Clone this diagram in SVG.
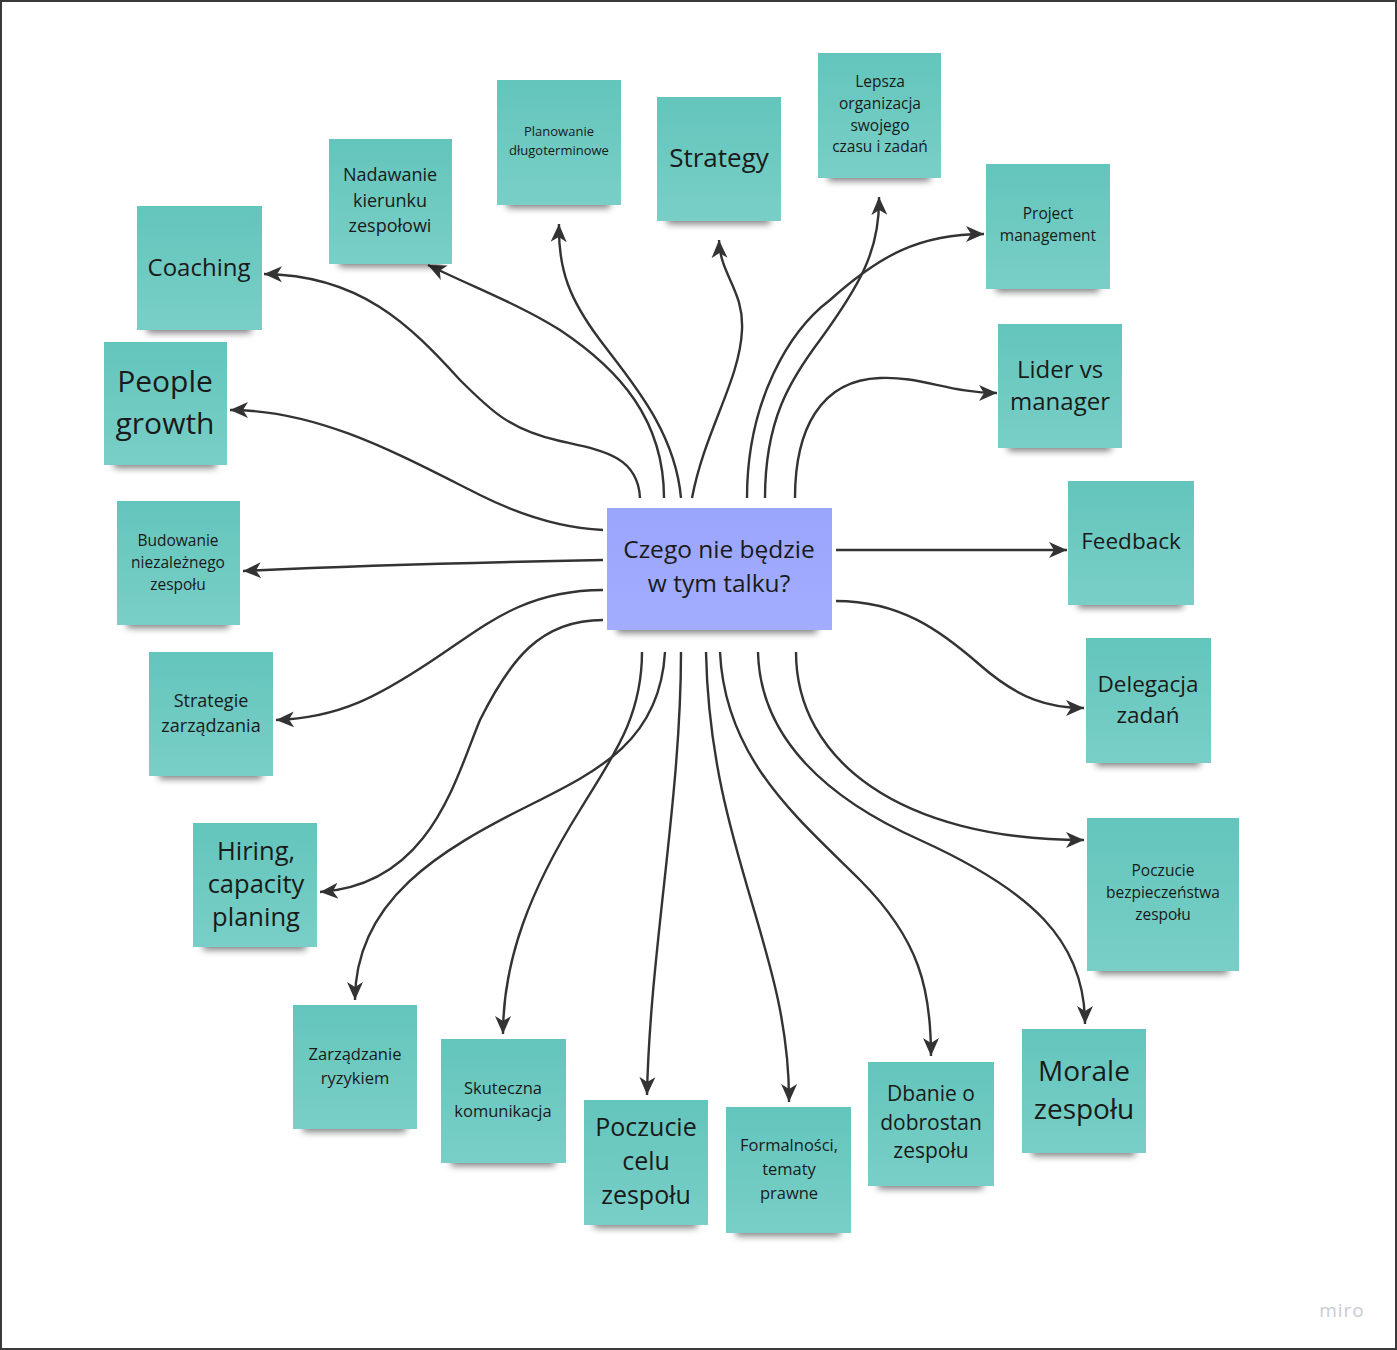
<svg xmlns="http://www.w3.org/2000/svg" width="1397" height="1350" viewBox="0 0 1397 1350">
<style>
.st{fill:url(#tg)}
.ct{fill:url(#pg)}
.sh{fill:#000;opacity:.5;filter:url(#bl)}
text{font-family:"Open Sans","Noto Sans","Liberation Sans",sans-serif;fill:#1a1a1a;text-anchor:middle}
.c path{fill:none;stroke:#333;stroke-width:2.4;marker-end:url(#ah)}
</style>
<defs>
<linearGradient id="tg" x1="0" y1="0" x2="0" y2="1"><stop offset="0" stop-color="#63c5bc"/><stop offset="1" stop-color="#79cfc7"/></linearGradient>
<linearGradient id="pg" x1="0" y1="0" x2="0" y2="1"><stop offset="0" stop-color="#9aa5fc"/><stop offset="1" stop-color="#a3adff"/></linearGradient>
<filter id="bl" x="-20%" y="-100%" width="140%" height="300%"><feGaussianBlur stdDeviation="3.5"/></filter>
<marker id="ah" markerUnits="userSpaceOnUse" markerWidth="20" markerHeight="20" refX="18" refY="9" orient="auto"><path d="M0,1 L18,9 L0,17 L5,9 Z" fill="#333"/></marker>
</defs>
<rect x="0" y="0" width="1397" height="1350" fill="#fff"/>
<rect x="1" y="1" width="1395" height="1348" fill="none" stroke="#3a3a3a" stroke-width="2"/>
<text x="1342" y="1317" style="font-size:19px;fill:#c8cad6;letter-spacing:1px">miro</text>

<g class="c" id="connectors">
<path d="M640,498 C638,455 600,450 560,441 C510,430 490,410 460,380 C410,325 360,275 264,274"/>
<path d="M664,498 C664,420 620,370 560,330 C520,305 480,290 428,265"/>
<path d="M681,498 C675,430 630,380 600,340 C570,300 558,270 559,224"/>
<path d="M692,498 C705,430 740,380 742,330 C744,290 720,275 719,240"/>
<path d="M765,498 C765,420 790,380 820,340 C860,285 880,250 879,197"/>
<path d="M747,498 C747,400 790,330 830,300 C880,255 920,234 984,234"/>
<path d="M795,498 C795,430 820,380 880,378 C920,376 950,393 997,393"/>
<path d="M603,530 C560,528 520,515 480,495 C400,455 320,410 230,410"/>
<path d="M603,560 C500,562 350,566 243,571"/>
<path d="M603,590 C520,590 480,630 430,662 C380,695 340,718 276,720"/>
<path d="M603,620 C540,620 510,660 480,720 C455,780 430,885 320,892"/>
<path d="M836,550 L1067,550"/>
<path d="M836,601 C900,601 940,630 980,665 C1020,700 1050,708 1084,708"/>
<path d="M642,652 C642,720 610,760 580,810 C530,890 503,960 503,1034"/>
<path d="M665,652 C660,740 600,770 530,805 C440,850 355,900 355,1000"/>
<path d="M681,652 C681,800 650,950 647,1095"/>
<path d="M706,652 C710,850 790,950 789,1102"/>
<path d="M720,652 C725,760 800,820 860,880 C920,940 931,990 931,1056"/>
<path d="M758,652 C760,740 830,800 920,840 C1030,890 1085,940 1085,1024"/>
<path d="M796,652 C796,760 900,840 1084,840"/>
</g>

<g id="n-center"><rect class="sh" x="617" y="619" width="200" height="14"/><rect class="ct" x="607" y="508" width="225" height="122"/>
<text style="font-size:24.5px"><tspan x="719" y="558">Czego nie będzie</tspan><tspan x="719" y="592">w tym talku?</tspan></text></g>

<g id="n-coaching"><rect class="sh" x="147" y="319" width="104" height="14"/><rect class="st" x="137" y="206" width="125" height="124"/>
<text x="199" y="276" style="font-size:24px">Coaching</text></g>

<g id="n-people"><rect class="sh" x="114" y="454" width="102" height="14"/><rect class="st" x="104" y="342" width="123" height="123"/>
<text style="font-size:30px"><tspan x="165" y="392">People</tspan><tspan x="165" y="434">growth</tspan></text></g>

<g id="n-nadawanie"><rect class="sh" x="339" y="253" width="102" height="14"/><rect class="st" x="329" y="139" width="123" height="125"/>
<text style="font-size:18px"><tspan x="390" y="181">Nadawanie</tspan><tspan x="390" y="207">kierunku</tspan><tspan x="390" y="232">zespołowi</tspan></text></g>

<g id="n-planowanie"><rect class="sh" x="507" y="194" width="103" height="14"/><rect class="st" x="497" y="80" width="124" height="125"/>
<text style="font-size:13px"><tspan x="559" y="136">Planowanie</tspan><tspan x="559" y="155">długoterminowe</tspan></text></g>

<g id="n-strategy"><rect class="sh" x="667" y="210" width="103" height="14"/><rect class="st" x="657" y="97" width="124" height="124"/>
<text x="719" y="167" style="font-size:26px">Strategy</text></g>

<g id="n-lepsza"><rect class="sh" x="828" y="167" width="102" height="14"/><rect class="st" x="818" y="53" width="123" height="125"/>
<text style="font-size:15.5px"><tspan x="880" y="87">Lepsza</tspan><tspan x="880" y="109">organizacja</tspan><tspan x="880" y="131">swojego</tspan><tspan x="880" y="152">czasu i zadań</tspan></text></g>

<g id="n-project"><rect class="sh" x="996" y="278" width="103" height="14"/><rect class="st" x="986" y="164" width="124" height="125"/>
<text style="font-size:15.5px"><tspan x="1048" y="219">Project</tspan><tspan x="1048" y="241">management</tspan></text></g>

<g id="n-lider"><rect class="sh" x="1008" y="437" width="103" height="14"/><rect class="st" x="998" y="324" width="124" height="124"/>
<text style="font-size:24px"><tspan x="1060" y="378">Lider vs</tspan><tspan x="1060" y="410">manager</tspan></text></g>

<g id="n-feedback"><rect class="sh" x="1078" y="594" width="105" height="14"/><rect class="st" x="1068" y="481" width="126" height="124"/>
<text x="1131" y="549" style="font-size:22.5px">Feedback</text></g>

<g id="n-delegacja"><rect class="sh" x="1096" y="752" width="104" height="14"/><rect class="st" x="1086" y="638" width="125" height="125"/>
<text style="font-size:22.5px"><tspan x="1148" y="692">Delegacja</tspan><tspan x="1148" y="723">zadań</tspan></text></g>

<g id="n-bezp"><rect class="sh" x="1097" y="960" width="131" height="14"/><rect class="st" x="1087" y="818" width="152" height="153"/>
<text style="font-size:15.5px"><tspan x="1163" y="876">Poczucie</tspan><tspan x="1163" y="898">bezpieczeństwa</tspan><tspan x="1163" y="920">zespołu</tspan></text></g>

<g id="n-morale"><rect class="sh" x="1032" y="1142" width="103" height="14"/><rect class="st" x="1022" y="1029" width="124" height="124"/>
<text style="font-size:28px"><tspan x="1084" y="1081">Morale</tspan><tspan x="1084" y="1119">zespołu</tspan></text></g>

<g id="n-dbanie"><rect class="sh" x="878" y="1175" width="105" height="14"/><rect class="st" x="868" y="1062" width="126" height="124"/>
<text style="font-size:21px"><tspan x="931" y="1101">Dbanie o</tspan><tspan x="931" y="1130">dobrostan</tspan><tspan x="931" y="1158">zespołu</tspan></text></g>

<g id="n-formal"><rect class="sh" x="736" y="1222" width="104" height="14"/><rect class="st" x="726" y="1107" width="125" height="126"/>
<text style="font-size:16.5px"><tspan x="789" y="1151">Formalności,</tspan><tspan x="789" y="1175">tematy</tspan><tspan x="789" y="1199">prawne</tspan></text></g>

<g id="n-celu"><rect class="sh" x="594" y="1214" width="103" height="14"/><rect class="st" x="584" y="1100" width="124" height="125"/>
<text style="font-size:25px"><tspan x="646" y="1136">Poczucie</tspan><tspan x="646" y="1170">celu</tspan><tspan x="646" y="1204">zespołu</tspan></text></g>

<g id="n-skut"><rect class="sh" x="451" y="1152" width="104" height="14"/><rect class="st" x="441" y="1039" width="125" height="124"/>
<text style="font-size:16.5px"><tspan x="503" y="1094">Skuteczna</tspan><tspan x="503" y="1117">komunikacja</tspan></text></g>

<g id="n-zarz"><rect class="sh" x="303" y="1118" width="103" height="14"/><rect class="st" x="293" y="1005" width="124" height="124"/>
<text style="font-size:16.5px"><tspan x="355" y="1060">Zarządzanie</tspan><tspan x="355" y="1084">ryzykiem</tspan></text></g>

<g id="n-hiring"><rect class="sh" x="203" y="936" width="103" height="14"/><rect class="st" x="193" y="823" width="124" height="124"/>
<text style="font-size:25.5px"><tspan x="256" y="860">Hiring,</tspan><tspan x="256" y="893">capacity</tspan><tspan x="256" y="926">planing</tspan></text></g>

<g id="n-strategie"><rect class="sh" x="159" y="765" width="103" height="14"/><rect class="st" x="149" y="652" width="124" height="124"/>
<text style="font-size:18px"><tspan x="211" y="707">Strategie</tspan><tspan x="211" y="732">zarządzania</tspan></text></g>

<g id="n-budowanie"><rect class="sh" x="127" y="614" width="102" height="14"/><rect class="st" x="117" y="501" width="123" height="124"/>
<text style="font-size:15.5px"><tspan x="178" y="546">Budowanie</tspan><tspan x="178" y="568">niezależnego</tspan><tspan x="178" y="590">zespołu</tspan></text></g>
</svg>
